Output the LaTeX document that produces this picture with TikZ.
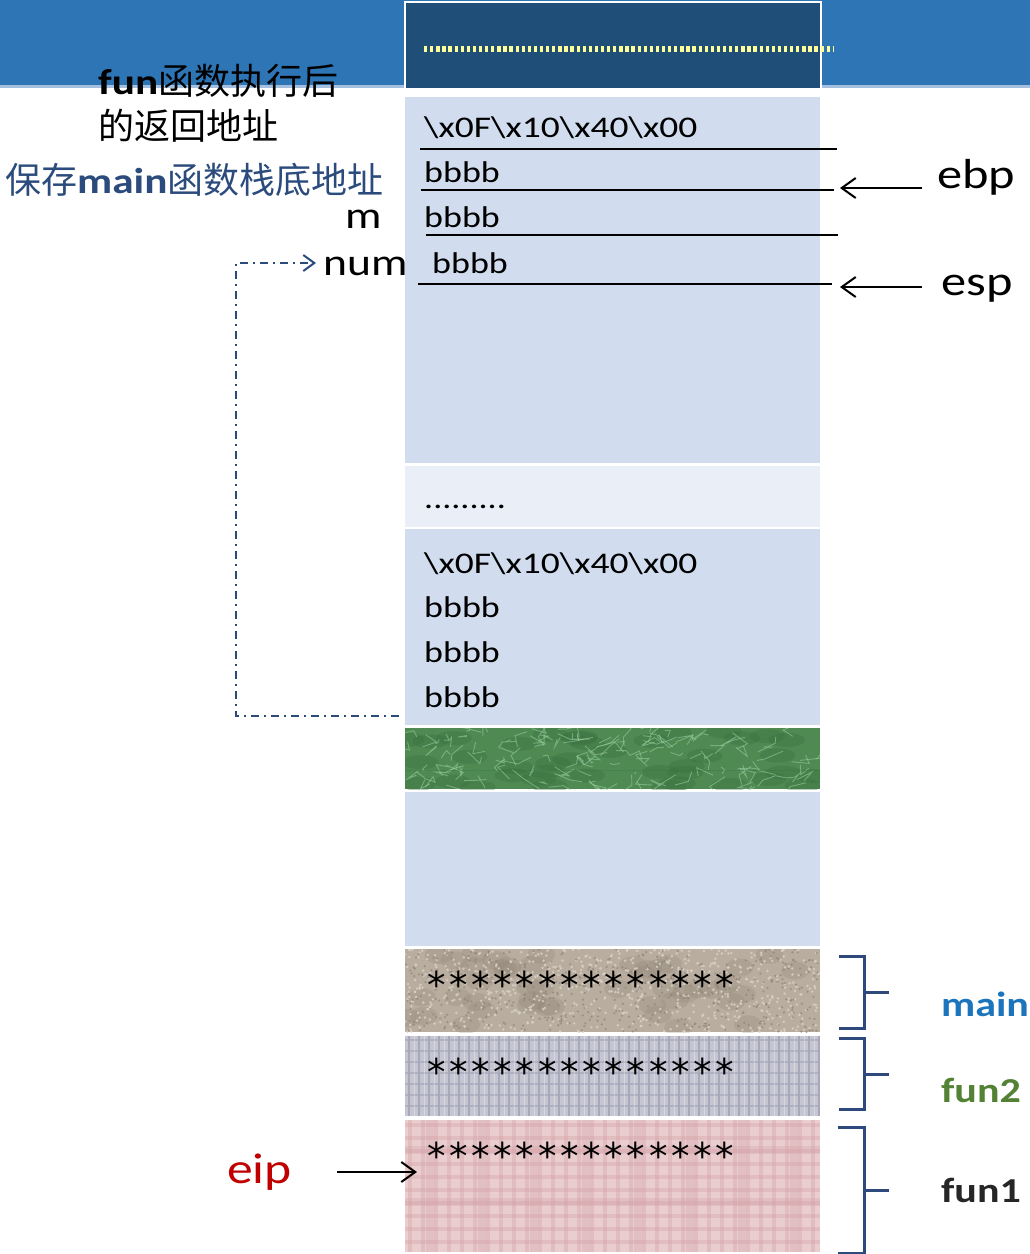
\documentclass[tikz,border=0pt]{standalone}
\usepackage{fontspec}
\setmainfont{Carlito}[FakeStretch=1.2]
\newfontfamily\hexfont{Carlito}[FakeStretch=1.25]
\newfontfamily\starfont{DejaVu Sans}
\newfontfamily\cjk{Noto Sans CJK SC}
\usetikzlibrary{arrows.meta}

\definecolor{band}{HTML}{2E75B6}
\definecolor{bandedge}{HTML}{A4BFDF}
\definecolor{topdark}{HTML}{1F4E79}
\definecolor{dotyellow}{HTML}{FFFF99}
\definecolor{cell}{HTML}{D1DDEF}
\definecolor{cellpale}{HTML}{E9EEF7}
\definecolor{navytext}{HTML}{2B4B7D}
\definecolor{bracketc}{HTML}{2E4A7D}
\definecolor{mainblue}{HTML}{1C75BC}
\definecolor{fungreen}{HTML}{548235}
\definecolor{fundark}{HTML}{262626}
\definecolor{eipred}{HTML}{C00000}
\definecolor{grnbase}{HTML}{4E8A52}
\definecolor{grnvein}{HTML}{9CCFA3}
\definecolor{grndark}{HTML}{3A7040}
\definecolor{beigebase}{HTML}{B8AD9F}
\definecolor{beigelight}{HTML}{DAD2C6}
\definecolor{beigedark}{HTML}{8F8374}
\definecolor{graybase}{HTML}{C5C6D2}
\definecolor{grayline}{HTML}{A7A8BA}
\definecolor{pinkbase}{HTML}{E9CDCF}
\definecolor{pinkband}{HTML}{D3A0A6}

\tikzset{
  stacktext/.style={anchor=base west, inner sep=0pt, font=\fontsize{30}{34}\selectfont},
  hextext/.style={anchor=base west, inner sep=0pt, font=\hexfont\fontsize{30}{34}\selectfont},
  regtext/.style={anchor=base west, inner sep=0pt, font=\fontsize{42}{48}\selectfont},
  stars/.style={anchor=base west, inner sep=0pt,
    font=\starfont\fontsize{37}{40}\selectfont\addfontfeature{LetterSpace=10}},
  framelabel/.style={anchor=base west, inner sep=0pt, font=\fontsize{35}{40}\selectfont\bfseries},
  sideline/.style={line width=2pt, black},
  regarrow/.style={line width=2pt, -{Straight Barb[length=14pt,width=20pt,line width=2pt]}},
  linkarrow/.style={line width=2pt, navytext, dash pattern=on 8pt off 5pt on 2pt off 5pt,
    -{Straight Barb[length=11pt,width=16pt,line width=2pt]}},
  bracket/.style={line width=3pt, bracketc},
}

\begin{document}
\begin{tikzpicture}[x=1pt, y=-1pt]
\useasboundingbox (0,0) rectangle (1030,1254);

% header band
\fill[band] (0,0) rectangle (1030,85);
\fill[bandedge] (0,85) rectangle (1030,88);

% top (caller) frame cell with the dotted marker line
\draw[fill=topdark, draw=white, line width=2pt] (405,2) rectangle (821,89);
\draw[dotyellow, line width=6pt, dash pattern=on 3.3pt off 2.8pt] (424,49) -- (834,49);

% plain stack cells
\fill[cell] (405,97) rectangle (820,463);
\fill[cellpale] (405,466) rectangle (820,527);
\fill[cell] (405,529) rectangle (820,725);
\fill[cell] (405,792) rectangle (820,946);

% green marble cell
\begin{scope}
  \clip (405,728) rectangle (820,789);
  \fill[grnbase] (405,728) rectangle (820,789);
  \pgfmathsetseed{7}
  \foreach \i in {1,...,40}{
    \pgfmathsetmacro\ax{405+415*rnd}
    \pgfmathsetmacro\ay{728+61*rnd}
    \fill[grndark, opacity=0.35] (\ax,\ay) ellipse (18 and 7);
  }
  \foreach \i in {1,...,140}{
    \pgfmathsetmacro\ax{405+415*rnd}
    \pgfmathsetmacro\ay{728+61*rnd}
    \pgfmathsetmacro\bx{\ax+36*rnd-18}
    \pgfmathsetmacro\by{\ay+24*rnd-12}
    \pgfmathsetmacro\cx{\bx+30*rnd-15}
    \pgfmathsetmacro\cy{\by+20*rnd-10}
    \draw[grnvein, opacity=0.55, line width=0.9pt] (\ax,\ay) -- (\bx,\by) -- (\cx,\cy);
  }
  \draw[grndark, opacity=0.3, line width=1pt] (405,770) -- (820,770);
\end{scope}

% speckled beige cell
\begin{scope}
  \clip (405,949) rectangle (820,1032);
  \fill[beigebase] (405,949) rectangle (820,1032);
  \pgfmathsetseed{11}
  \foreach \i in {1,...,45}{
    \pgfmathsetmacro\ax{405+415*rnd}
    \pgfmathsetmacro\ay{949+83*rnd}
    \fill[beigedark, opacity=0.25] (\ax,\ay) ellipse (14 and 9);
  }
  \foreach \i in {1,...,700}{
    \pgfmathsetmacro\ax{405+415*rnd}
    \pgfmathsetmacro\ay{949+83*rnd}
    \fill[beigelight, opacity=0.8] (\ax,\ay) circle (1.4);
  }
  \foreach \i in {1,...,500}{
    \pgfmathsetmacro\ax{405+415*rnd}
    \pgfmathsetmacro\ay{949+83*rnd}
    \fill[beigedark, opacity=0.7] (\ax,\ay) circle (1.2);
  }
\end{scope}

% gray woven cell
\begin{scope}
  \clip (405,1036) rectangle (820,1116);
  \fill[graybase] (405,1036) rectangle (820,1116);
  \foreach \x in {409,419,...,820}
    \draw[grayline, line width=1.8pt] (\x,1036) -- (\x,1116);
  \foreach \y in {1040,1051,...,1116}
    \draw[grayline, opacity=0.7, line width=1.6pt] (405,\y) -- (820,\y);
  \foreach \x in {414,424,...,820}
    \draw[white, opacity=0.3, line width=1pt] (\x,1036) -- (\x,1116);
\end{scope}

% pink plaid cell
\begin{scope}
  \clip (405,1120) rectangle (820,1252);
  \fill[pinkbase] (405,1120) rectangle (820,1252);
  \foreach \x in {410,423,...,820}
    \draw[pinkband, opacity=0.35, line width=4pt] (\x,1120) -- (\x,1252);
  \foreach \y in {1125,1138,...,1252}
    \draw[pinkband, opacity=0.35, line width=4pt] (405,\y) -- (820,\y);
  \foreach \x in {430,482,...,820}
    \draw[pinkband, opacity=0.3, line width=8pt] (\x,1120) -- (\x,1252);
  \foreach \y in {1150,1202,...,1252}
    \draw[pinkband, opacity=0.3, line width=8pt] (405,\y) -- (820,\y);
\end{scope}

% current frame contents and slot separators
\node[hextext] (retA) at (424,137) {\textbackslash x0F\textbackslash x10\textbackslash x40\textbackslash x00};
\node[stacktext] (bA1) at (424,182) {bbbb};
\node[stacktext] (bA2) at (424,227) {bbbb};
\node[stacktext] (bA3) at (432,273) {bbbb};
\draw[sideline] (420,149) -- (837,149);
\draw[sideline] (421,190) -- (834,190);
\draw[sideline] (426,235) -- (838,235);
\draw[sideline] (418,284) -- (832,284);

\node[stacktext] (gap) at (424,508) {.........};

% earlier frame contents
\node[hextext] (retB) at (424,573) {\textbackslash x0F\textbackslash x10\textbackslash x40\textbackslash x00};
\node[stacktext] (bB1) at (424,617) {bbbb};
\node[stacktext] (bB2) at (424,662) {bbbb};
\node[stacktext] (bB3) at (424,707) {bbbb};

% bottom frames
\node[stars] (starsMain) at (427,998) {**************};
\node[stars] (starsFun2) at (427,1085) {**************};
\node[stars] (starsFun1) at (427,1169) {**************};

% register pointers
\node[regtext] (ebp) at (937,188) {ebp};
\node[regtext] (esp) at (941,295) {esp};
\coordinate (ebpTail) at (922,188);
\coordinate (ebpTip) at (840,188);
\coordinate (espTail) at (922,287);
\coordinate (espTip) at (840,287);
\draw[regarrow] (ebpTail) -- (ebpTip);
\draw[regarrow] (espTail) -- (espTip);

\node[regtext, text=eipred, font=\fontsize{43}{48}\selectfont] (eip) at (227,1183) {eip};
\coordinate (eipTail) at (337,1172);
\coordinate (eipTip) at (417,1172);
\draw[regarrow] (eipTail) -- (eipTip);

% slot annotations on the left
\node[anchor=base west, inner sep=0pt, font=\fontsize{36}{40}\selectfont] (retNote1) at (98,94)
  {\textbf{fun}{\cjk 函数执行后}};
\node[anchor=base west, inner sep=0pt, font=\fontsize{36}{40}\selectfont] (retNote2) at (98,139)
  {{\cjk 的返回地址}};
\node[anchor=base west, inner sep=0pt, font=\fontsize{36}{40}\selectfont, text=navytext] (ebpNote) at (5,193)
  {{\cjk 保存}\textbf{main}{\cjk 函数栈底地址}};
\node[anchor=base west, inner sep=0pt, font=\fontsize{38}{42}\selectfont] (mNote) at (345,228) {m};
\node[anchor=base west, inner sep=0pt, font=\fontsize{38}{42}\selectfont] (numNote) at (323,275) {num};

% link from the earlier frame's last slot to num
\coordinate (linkStart) at (399,716);
\coordinate (linkLow) at (236,716);
\coordinate (linkHigh) at (236,263);
\coordinate (linkEnd) at (316,263);
\draw[linkarrow] (linkStart) -- (linkLow) -- (linkHigh) -- (linkEnd);

% frame brackets and names
\draw[bracket] (839,956) -- (864,956) -- (864,1028) -- (839,1028);
\draw[bracket] (864,992) -- (889,992);
\draw[bracket] (839,1038) -- (864,1038) -- (864,1109) -- (839,1109);
\draw[bracket] (864,1074) -- (889,1074);
\draw[bracket] (838,1127) -- (864,1127) -- (864,1253) -- (838,1253);
\draw[bracket] (864,1190) -- (889,1190);

\node[framelabel, text=mainblue] (mainName) at (941,1016) {main};
\node[framelabel, text=fungreen] (fun2Name) at (941,1102) {fun2};
\node[framelabel, text=fundark] (fun1Name) at (941,1202) {fun1};
\end{tikzpicture}
\end{document}
